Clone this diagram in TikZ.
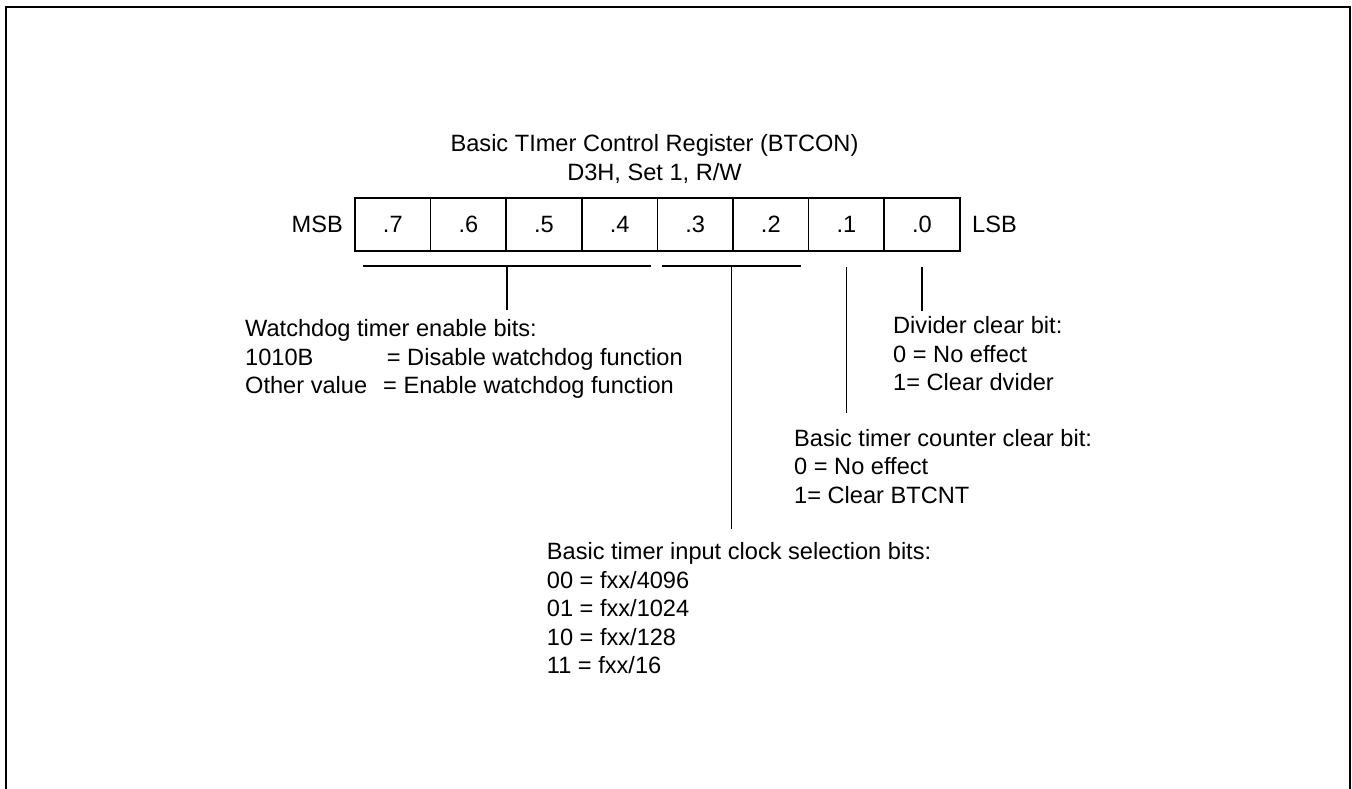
\documentclass[tikz,border=0pt]{standalone}
\usepackage{fontspec}
\setmainfont{Liberation Sans}
\begin{document}
\begin{tikzpicture}[x=1pt,y=-1pt,
  txt/.style={inner sep=0pt, font=\fontsize{23.6}{28.5}\selectfont, align=left, anchor=north west},
  ttl/.style={inner sep=0pt, font=\fontsize{23.6}{28.3}\selectfont, align=center, anchor=north},
  cell/.style={draw, line width=1.5pt, minimum width=75.6pt, minimum height=53pt, inner sep=0pt, font=\fontsize{23.6}{28.5}\selectfont},
  lbl/.style={inner sep=0pt, font=\fontsize{23.6}{28.5}\selectfont},
  ln/.style={line width=1.5pt},
  frame/.style={line width=2.2pt}]
\useasboundingbox (0,0) rectangle (1352,789);
\draw[frame] (6,789) -- (6,7) -- (1350,7) -- (1350,789);

\node[ttl] (title) at (654.5,134.6) {Basic TImer Control Register (BTCON)\\D3H, Set 1, R/W};

\foreach \i/\n in {0/7,1/6,2/5,3/4,4/3,5/2,6/1,7/0}
  \node[cell] (b\n) at ({355+75.6*(\i+0.5)},224.5) {.\n};
\node[lbl, anchor=east] (msb) at (343,224.5) {MSB};
\node[lbl, anchor=west] (lsb) at (972,224.5) {LSB};

\coordinate (wl) at (363,266);
\coordinate (wr) at (651,266);
\coordinate (wm) at (507,266);
\coordinate (wb) at (507,310);
\coordinate (cl) at (662,266);
\coordinate (cr) at (801,266);
\coordinate (cm) at (731.5,266);
\coordinate (cb) at (731.5,529);
\coordinate (t1) at (846.6,267);
\coordinate (e1) at (846.6,412.7);
\coordinate (t0) at (922.2,267);
\coordinate (e0) at (922.2,311);

\draw[ln] (wl) -- (wr);
\draw[ln] (wm) -- (wb);
\draw[ln] (cl) -- (cr);
\draw[ln] (cm) -- (cb);
\draw[ln] (t1) -- (e1);
\draw[ln] (t0) -- (e0);

\node[txt] (wd) at (245,319.2) {Watchdog timer enable bits:\\\makebox[141.7pt][l]{1010B}= Disable watchdog function\\\makebox[138pt][l]{Other value}= Enable watchdog function};
\node[txt] (dv) at (893,316.2) {Divider clear bit:\\0 = No effect\\1= Clear dvider};
\node[txt] (bc) at (794,428.9) {Basic timer counter clear bit:\\0 = No effect\\1= Clear BTCNT};
\node[txt] (ic) at (546.7,542.5) {Basic timer input clock selection bits:\\00 = fxx/4096\\01 = fxx/1024\\10 = fxx/128\\11 = fxx/16};
\end{tikzpicture}
\end{document}
